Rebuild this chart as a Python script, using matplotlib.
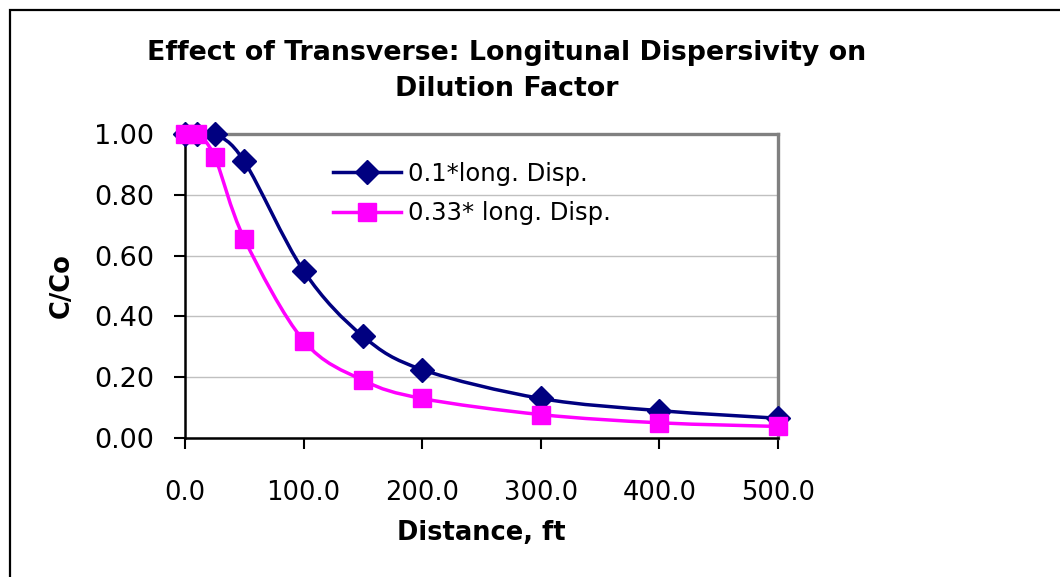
import numpy as np
import matplotlib.pyplot as plt
from matplotlib.path import Path
from matplotlib.patches import PathPatch, Rectangle
from matplotlib.ticker import FormatStrFormatter

# data
distance = [0, 10, 25, 50, 100, 150, 200, 300, 400, 500]
disp_01 = [1.0, 1.0, 1.0, 0.91, 0.55, 0.335, 0.225, 0.13, 0.09, 0.065]
disp_033 = [1.0, 1.0, 0.925, 0.655, 0.32, 0.19, 0.13, 0.077, 0.05, 0.038]
labels = ['0.1*long. Disp.', '0.33* long. Disp.']

plt.rcParams['font.family'] = ['DejaVu Sans']


# Excel style smoothed line: one cubic bezier segment between each pair of points
def smooth_path(x, y):
    pts = np.column_stack([x, y]).astype(float)
    verts = [pts[0]]
    codes = [Path.MOVETO]
    n = len(pts)
    for i in range(n - 1):
        p0 = pts[max(i - 1, 0)]
        p1 = pts[i]
        p2 = pts[i + 1]
        p3 = pts[min(i + 2, n - 1)]
        verts += [p1 + (p2 - p0) / 6, p2 - (p3 - p1) / 6, p2]
        codes += [Path.CURVE4] * 3
    return Path(verts, codes)


fig = plt.figure(figsize=(10.6, 5.77), dpi=100)
ax = fig.add_axes([185 / 1060, 1 - 438 / 577, (778 - 185) / 1060, (438 - 134) / 577])

series = [(disp_01, '#000080', 'D', 12.5), (disp_033, '#FF00FF', 's', 12.5)]
for (vals, color, marker, ms), lab in zip(series, labels):
    ax.add_patch(PathPatch(smooth_path(distance, vals), facecolor='none',
                           edgecolor=color, lw=2.5, zorder=3))
    ax.plot(distance, vals, linestyle='none', marker=marker, ms=ms, color=color,
            clip_on=False, zorder=4)
    # legend handle
    ax.plot([], [], color=color, lw=2.5, marker=marker, ms=ms, label=lab)

ax.set_xlim(0, 500)
ax.set_ylim(0, 1.0)
ax.set_xticks([0, 100, 200, 300, 400, 500])
ax.set_yticks([0, 0.2, 0.4, 0.6, 0.8, 1.0])
ax.xaxis.set_major_formatter(FormatStrFormatter('%.1f'))
ax.yaxis.set_major_formatter(FormatStrFormatter('%.2f'))
ax.tick_params(axis='both', direction='out', length=8, width=1.5, labelsize=18.5)
ax.tick_params(axis='y', labelsize=19.5)
ax.tick_params(axis='x', pad=22)
ax.tick_params(axis='y', pad=14)
ax.grid(axis='y', color='#C0C0C0', lw=1)
ax.set_axisbelow(True)

for side in ['left', 'bottom']:
    ax.spines[side].set_linewidth(1.8)
    ax.spines[side].set_color('black')
for side in ['top', 'right']:
    ax.spines[side].set_linewidth(2.4)
    ax.spines[side].set_color('#808080')

ax.set_xlabel('Distance, ft', fontsize=18.5, fontweight='bold', labelpad=10)
ax.set_ylabel('C/Co', fontsize=18.5, fontweight='bold', labelpad=14)

fig.text(507 / 1060, 1 - 71 / 577,
         'Effect of Transverse: Longitunal Dispersivity on\nDilution Factor',
         ha='center', va='center', fontsize=19.3, fontweight='bold', linespacing=1.5)

ax.legend(loc='upper left', bbox_to_anchor=((333 - 185) / 593, 1 - (162 - 134) / 304),
          frameon=False, fontsize=17.5, handlelength=2.8, handletextpad=0.3,
          labelspacing=0.63, borderaxespad=0, borderpad=0)

# outer chart border (right and bottom edges fall outside the image)
fig.patches.append(Rectangle((10 / 1060, -0.1), 1.2, 1.1 - 10 / 577, transform=fig.transFigure,
                             fill=False, edgecolor='black', lw=1.6))

fig.savefig('out.png', dpi=100)
